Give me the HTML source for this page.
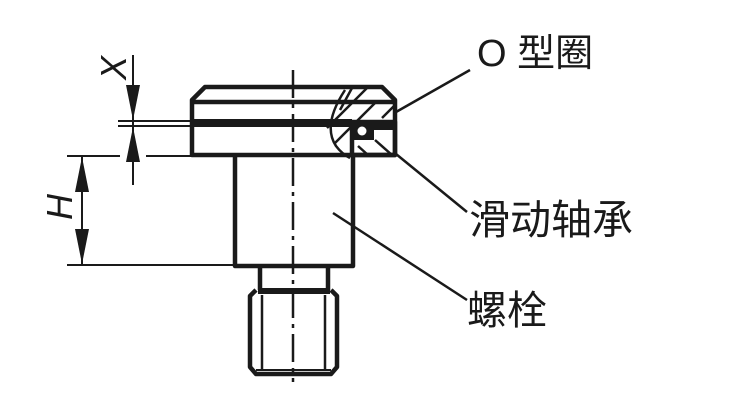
<!DOCTYPE html>
<html><head><meta charset="utf-8"><style>
html,body{margin:0;padding:0;background:#fff;width:750px;height:415px;overflow:hidden}
text{font-family:"Liberation Sans","Noto Sans CJK SC",sans-serif;fill:#1a1a1a}
</style></head><body>
<svg width="750" height="415" viewBox="0 0 750 415" xmlns="http://www.w3.org/2000/svg">
<g stroke="#1a1a1a" fill="none" stroke-width="4.5" stroke-linejoin="round">
<path d="M205,87 L382,87 L395,100 L395,155 L192,155 L192,100 Z"/>
<line x1="192" y1="102" x2="395" y2="102"/>
<path d="M235,155 L235,266 L353,266 L353,155"/>
<path d="M260,266 L260,290 M328,266 L328,290"/>
<line x1="258" y1="291" x2="330" y2="291" stroke-width="6"/>
<path d="M256,290 L250,296 L250,367 L256,374 L331,374 L337,367 L337,296 L331,290"/>
<line x1="262" y1="295" x2="262" y2="370" stroke-width="2.5"/>
<line x1="325" y1="295" x2="325" y2="370" stroke-width="2.5"/>
<line x1="256" y1="370" x2="331" y2="370" stroke-width="2"/>
<rect x="352" y="122" width="43" height="33"/>
<path d="M345,90 Q322,125 336,146 Q342,154 350,158" stroke-width="2.5"/>
<g stroke-width="2.5">
<line x1="340" y1="110" x2="352" y2="88"/>
<line x1="327" y1="128" x2="367" y2="88"/>
<line x1="334" y1="144" x2="376" y2="102"/>
<line x1="375" y1="140" x2="392" y2="155"/>
<line x1="358" y1="146" x2="368" y2="155"/>
<line x1="382" y1="118" x2="394" y2="106"/>
</g>
</g>
<rect x="192" y="119" width="160" height="8" fill="#1a1a1a"/>
<rect x="352" y="122" width="43" height="8" fill="#1a1a1a"/>
<rect x="352" y="122" width="22" height="18" fill="#1a1a1a"/>
<circle cx="362" cy="131" r="4.5" fill="#fff"/>
<line x1="293" y1="70" x2="293" y2="382" stroke="#1a1a1a" stroke-width="2.5" stroke-dasharray="28,6,4,6"/>
<g stroke="#1a1a1a" stroke-width="2.5">
<line x1="396" y1="112" x2="470" y2="70"/>
<line x1="396" y1="154" x2="467" y2="212"/>
<line x1="333" y1="213" x2="467" y2="300"/>
<line x1="118" y1="121" x2="192" y2="121" stroke-width="2"/>
<line x1="118" y1="126" x2="192" y2="126" stroke-width="2"/>
<line x1="67" y1="156" x2="120" y2="156" stroke-width="2"/>
<line x1="146" y1="156" x2="192" y2="156" stroke-width="2"/>
<line x1="67" y1="265" x2="235" y2="265" stroke-width="2"/>
<line x1="133" y1="55" x2="133" y2="185" stroke-width="2"/>
<line x1="82" y1="157" x2="82" y2="264" stroke-width="2"/>
</g>
<g fill="#1a1a1a">
<polygon points="126,85 140,85 133,120"/>
<polygon points="126,162 140,162 133,127"/>
<polygon points="75,192 89,192 82,157"/>
<polygon points="75,229 89,229 82,264"/>
</g>
<text x="0" y="0" font-size="36" font-style="italic" transform="translate(126,68) rotate(-90)" text-anchor="middle">X</text>
<text x="0" y="0" font-size="36" font-style="italic" transform="translate(72,207) rotate(-90)" text-anchor="middle">H</text>
<text x="477" y="66" font-size="38">O 型圈</text>
<text x="469" y="234" font-size="41">滑动轴承</text>
<text x="467" y="324" font-size="40">螺栓</text>
</svg>
</body></html>
